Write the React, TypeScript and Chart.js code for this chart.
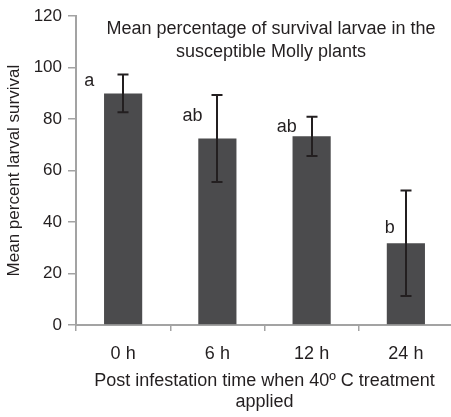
import React, { useEffect, useRef } from 'react';
import { Chart, registerables } from 'chart.js';

Chart.register(...registerables);

const categories = ['0 h', '6 h', '12 h', '24 h'];
const means = [90, 72.5, 73.3, 31.8];
const errors = [7.3, 16.9, 7.6, 20.5];
const letters = ['a', 'ab', 'ab', 'b'];
const letterValues = [92.8, 79.2, 75, 35.7];
const letterShift = [-0.36, -0.265, -0.265, -0.17];
const yMin = 0;
const yMax = 120;
const yStep = 20;
const titleLines = ['Mean percentage of survival larvae in the', 'susceptible Molly plants'];
const xTitle = ['Post infestation time when 40º C treatment', 'applied'];
const yTitle = 'Mean percent larval survival';

const FONT = '"Liberation Sans", Arial, Helvetica, sans-serif';
const TEXT = '#231f20';
const AXIS = '#a3a3a3';

const overlay = {
  id: 'overlay',
  afterDatasetsDraw(chart: any) {
    const { ctx, chartArea, scales } = chart;
    const x = scales.x;
    const y = scales.y;
    const meta = chart.getDatasetMeta(0);
    ctx.save();
    ctx.strokeStyle = TEXT;
    ctx.lineWidth = 2;
    meta.data.forEach((bar: any, i: number) => {
      const cx = Math.round(bar.x);
      const top = y.getPixelForValue(means[i] + errors[i]);
      const bot = y.getPixelForValue(means[i] - errors[i]);
      ctx.beginPath();
      ctx.moveTo(cx, top);
      ctx.lineTo(cx, bot);
      ctx.moveTo(cx - 5.5, top);
      ctx.lineTo(cx + 5.5, top);
      ctx.moveTo(cx - 5.5, bot);
      ctx.lineTo(cx + 5.5, bot);
      ctx.stroke();
    });
    ctx.fillStyle = TEXT;
    ctx.font = '18px ' + FONT;
    ctx.textAlign = 'center';
    ctx.textBaseline = 'alphabetic';
    const catW = (chartArea.right - chartArea.left) / categories.length;
    letters.forEach((t, i) => {
      ctx.fillText(t, x.getPixelForValue(i) + letterShift[i] * catW, y.getPixelForValue(letterValues[i]));
    });
    const tx = (chartArea.left + chartArea.right) / 2 + 6.5;
    titleLines.forEach((line, i) => {
      ctx.fillText(line, tx, chartArea.top + 18 + i * 22.4);
    });
    ctx.restore();
  },
};

export default function App() {
  const ref = useRef<HTMLCanvasElement | null>(null);
  useEffect(() => {
    document.body.style.margin = '0';
    const canvas = ref.current;
    if (!canvas) return;
    const yTicks: number[] = [];
    for (let v = yMin; v <= yMax; v += yStep) yTicks.push(v);
    const chart = new Chart(canvas, {
      type: 'bar',
      data: {
        labels: categories,
        datasets: [
          {
            data: means,
            backgroundColor: '#4b4b4d',
            borderWidth: 0,
            categoryPercentage: 1,
            barPercentage: 0.405,
          },
        ],
      },
      options: {
        responsive: false,
        animation: false,
        devicePixelRatio: 1,
        layout: { padding: { top: 16, right: 0, bottom: 0, left: 0 } },
        plugins: {
          legend: { display: false },
          tooltip: { enabled: false },
          title: { display: false },
        },
        scales: {
          x: {
            grid: {
              drawOnChartArea: false,
              drawTicks: true,
              tickLength: 6,
              color: AXIS,
              lineWidth: 1.5,
              offset: true,
            },
            border: { color: AXIS, width: 2 },
            ticks: { color: TEXT, font: { family: FONT, size: 18 }, padding: 12 },
            title: {
              display: true,
              text: xTitle,
              color: TEXT,
              font: { family: FONT, size: 18, lineHeight: '21px' as any },
              padding: { top: 0, bottom: 4 },
            },
            afterFit: (scale: any) => {
              scale.height = 92;
            },
          },
          y: {
            min: yMin,
            max: yMax,
            afterBuildTicks: (scale: any) => {
              scale.ticks = yTicks.map((v) => ({ value: v }));
            },
            grid: {
              drawOnChartArea: false,
              drawTicks: true,
              tickLength: 8,
              color: AXIS,
              lineWidth: 1.5,
            },
            border: { color: AXIS, width: 2 },
            ticks: { color: TEXT, font: { family: FONT, size: 17 }, padding: 6 },
            title: {
              display: true,
              text: yTitle,
              color: TEXT,
              font: { family: FONT, size: 17 },
              padding: { top: 4, bottom: 0 },
            },
            afterFit: (scale: any) => {
              scale.width = 76;
            },
          },
        },
      },
      plugins: [overlay],
    });
    return () => chart.destroy();
  }, []);
  return (
    <div style={{ width: 451, height: 417, overflow: 'hidden' }}>
      <canvas ref={ref} width={453} height={417} style={{ display: 'block' }} />
    </div>
  );
}
